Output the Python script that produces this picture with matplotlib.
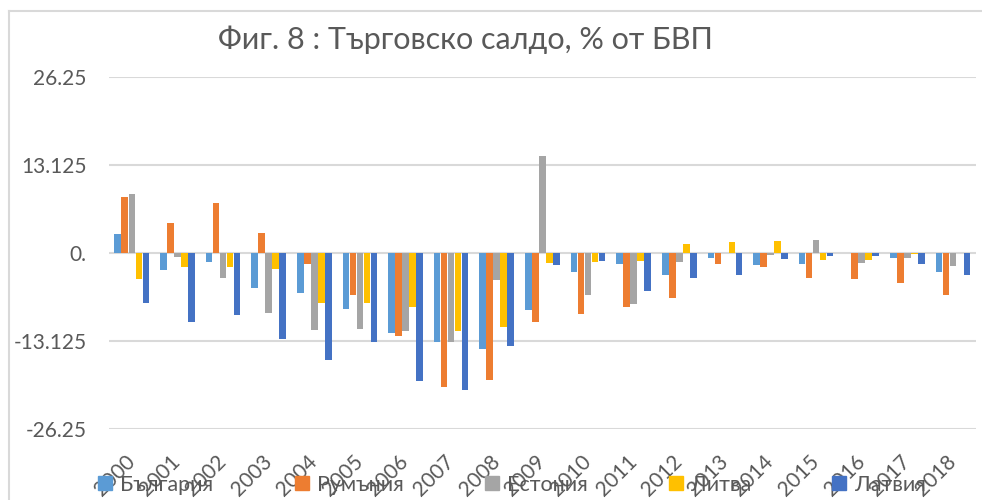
import matplotlib
matplotlib.use("Agg")
import matplotlib.pyplot as plt
import numpy as np
from matplotlib.lines import Line2D

plt.rcParams['font.family'] = ['Lato', 'DejaVu Sans']

years = [str(y) for y in range(2000, 2019)]
series_names = ["България", "Румъния", "Естония", "Литва", "Латвия"]
bulgaria = [2.8, -2.5, -1.3, -5.2, -5.9, -8.3, -11.9, -13.2, -14.3, -8.5, -2.8, -1.6, -3.3, -0.8, -1.8, -1.6, 0.0, -0.7, -2.9]
romania = [8.3, 4.5, 7.4, 3.0, -1.6, -6.2, -12.4, -20.0, -18.9, -10.3, -9.1, -8.1, -6.7, -1.7, -2.1, -3.7, -3.9, -4.5, -6.2]
estonia = [8.8, -0.6, -3.8, -9.0, -11.5, -11.3, -11.6, -13.2, -4.1, 14.5, -6.3, -7.6, -1.4, 0.0, -0.3, 1.9, -1.5, -0.7, -1.9]
lithuania = [-3.9, -2.1, -2.1, -2.4, -7.5, -7.4, -8.1, -11.7, -11.1, -1.5, -1.4, -1.2, 1.3, 1.7, 1.8, -1.0, -1.0, -0.2, 0.0]
latvia = [-7.4, -10.3, -9.2, -12.8, -15.9, -13.2, -19.1, -20.5, -13.9, -1.8, -1.2, -5.6, -3.7, -3.3, -0.9, -0.5, -0.5, -1.7, -3.3]
yticks = [-26.25, -13.125, 0.0, 13.125, 26.25]
ytick_labels = ["-26.25", "-13.125", "0.", "13.125", "26.25"]
title = "Фиг. 8 : Търговско салдо, % от БВП"

colors = ["#5b9bd5", "#ed7d31", "#a5a5a5", "#ffc000", "#4472c4"]
text_color = "#595959"

fig = plt.figure(figsize=(9.82, 5.0), dpi=100)
ax = fig.add_axes([109/982, 1-429/500, (975.7-109)/982, (429-77)/500])

x = np.arange(len(years))
step = 0.1535
width = 0.145
handles = []
for k, (name, vals, c) in enumerate(zip(series_names, [bulgaria, romania, estonia, lithuania, latvia], colors)):
    ax.bar(x + (k - 2) * step, vals, width=width, color=c, zorder=3, label=name)
    handles.append(Line2D([], [], marker='s', linestyle='none', markersize=10, color=c, label=name))

ax.set_xlim(-0.5, len(years) - 0.5)
ax.set_ylim(-26.25, 26.25)
ax.set_yticks(yticks)
ax.set_yticklabels(ytick_labels)
ax.yaxis.grid(True, color="#d9d9d9", linewidth=1.5, zorder=0)
ax.set_axisbelow(True)
for s in ax.spines.values():
    s.set_visible(False)
ax.tick_params(axis='y', length=0, pad=16, labelsize=15, labelcolor=text_color)
ax.set_xticks(x)
ax.set_xticklabels(years, rotation=45, ha='right', va='center', rotation_mode='anchor')
ax.tick_params(axis='x', length=0, pad=21, labelsize=15, labelcolor=text_color)

fig.text(465/982, 1-40/500, title, ha='center', va='center', fontsize=22, color=text_color)

leg = fig.legend(handles=handles, loc='center', bbox_to_anchor=(511/982, 1-485/500), ncol=5,
                 frameon=False, fontsize=15.5, labelcolor=text_color, handletextpad=0.3,
                 columnspacing=3.7, handlelength=0.8)

# chart border (left and top)
fig.add_artist(Line2D([8.5/982, 8.5/982], [0, 1-11/500], transform=fig.transFigure, color="#d9d9d9", lw=1.5))
fig.add_artist(Line2D([8.5/982, 1], [1-11/500, 1-11/500], transform=fig.transFigure, color="#d9d9d9", lw=1.5))

fig.savefig("out.png", dpi=100)
